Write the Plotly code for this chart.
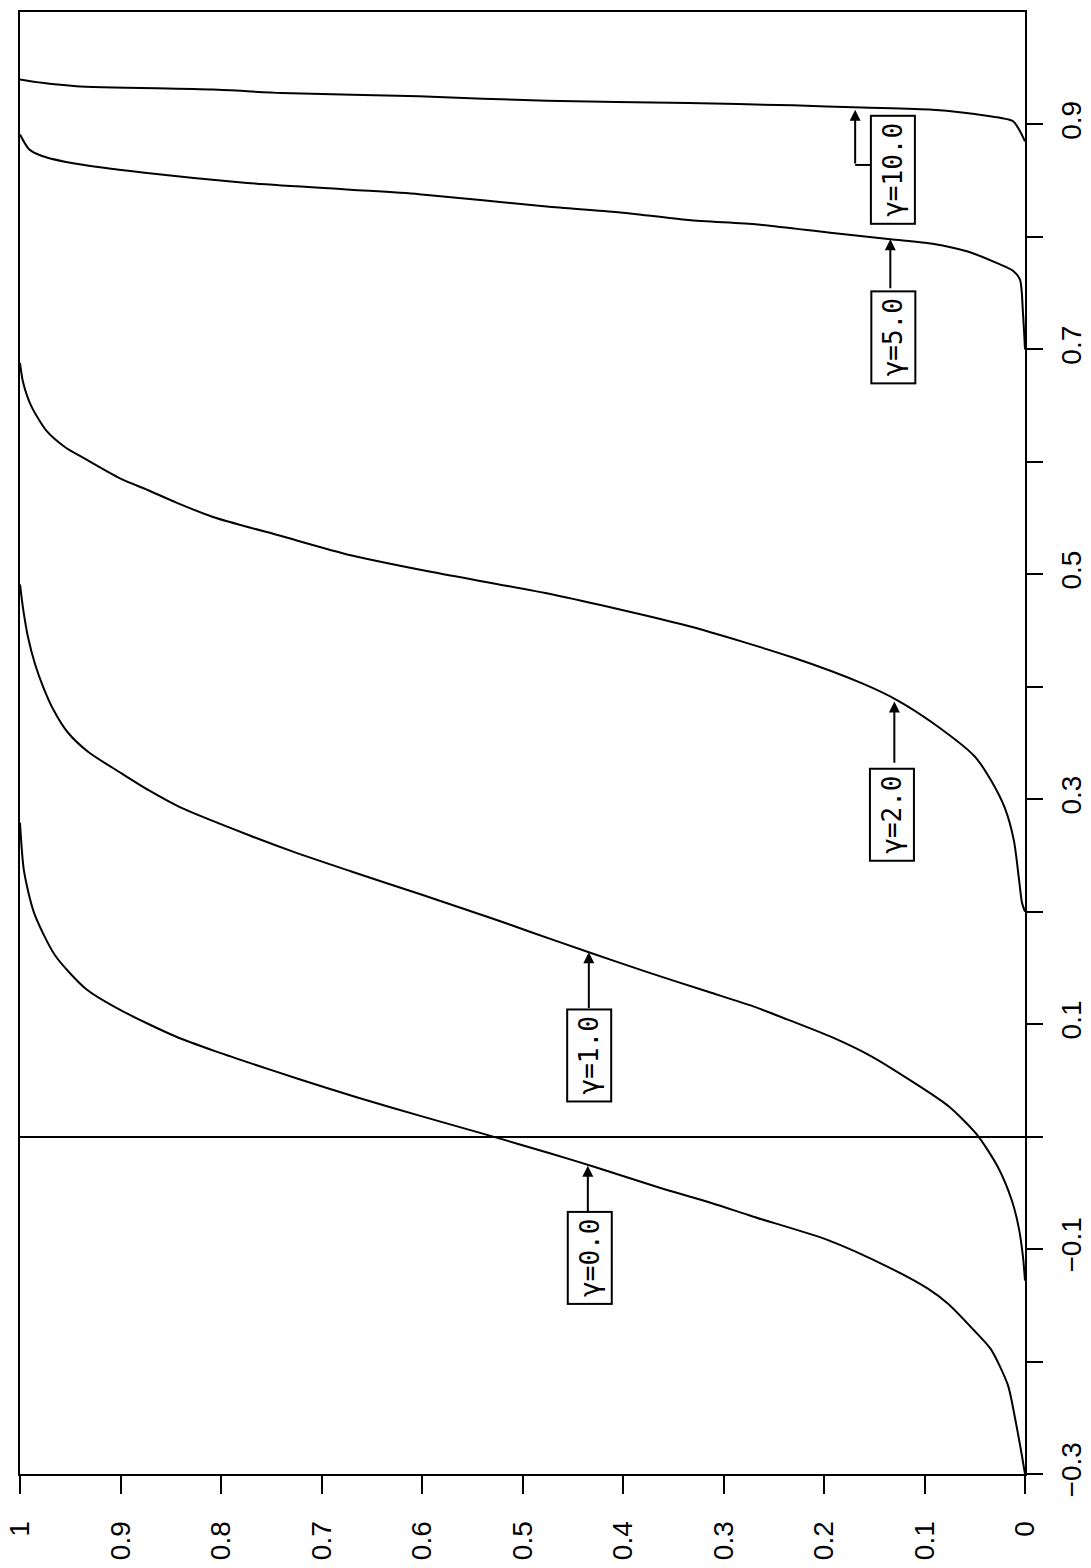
import plotly.graph_objects as go

# ---- data (rotated chart: horizontal = function value v, vertical = parameter p) ----
g0_p = [-0.300, -0.284, -0.250, -0.221, -0.189, -0.172, -0.149, -0.135, -0.116, -0.092, -0.071,
        -0.059, -0.045, -0.027, -0.015, 0.002, 0.018, 0.035, 0.051, 0.066, 0.076, 0.089,
        0.112, 0.131, 0.161, 0.199, 0.236, 0.279]
g0_v = [0.000, 0.003, 0.010, 0.017, 0.034, 0.051, 0.076, 0.097, 0.136, 0.196, 0.271,
        0.312, 0.365, 0.428, 0.472, 0.537, 0.600, 0.665, 0.722, 0.773, 0.806, 0.845,
        0.899, 0.934, 0.965, 0.986, 0.996, 1.000]

g1_p = [-0.128, -0.107, -0.082, -0.057, -0.027, 0.002, 0.027, 0.050, 0.071, 0.088, 0.104,
        0.116, 0.129, 0.146, 0.164, 0.182, 0.194, 0.215, 0.236, 0.253, 0.268, 0.293,
        0.308, 0.323, 0.342, 0.360, 0.380, 0.400, 0.420, 0.444, 0.470, 0.491]
g1_v = [0.000, 0.002, 0.006, 0.013, 0.027, 0.048, 0.076, 0.114, 0.152, 0.191, 0.236,
        0.271, 0.316, 0.375, 0.434, 0.492, 0.530, 0.600, 0.671, 0.727, 0.772, 0.841,
        0.872, 0.899, 0.932, 0.953, 0.967, 0.977, 0.985, 0.992, 0.997, 1.000]

g2_p = [0.200, 0.208, 0.229, 0.263, 0.292, 0.317, 0.338, 0.368, 0.388, 0.403,
        0.426, 0.454, 0.482, 0.502, 0.517, 0.534, 0.551, 0.564, 0.575, 0.585, 0.603,
        0.613, 0.628, 0.650, 0.671, 0.688]
g2_v = [0.000, 0.003, 0.006, 0.011, 0.020, 0.034, 0.050, 0.092, 0.127, 0.162,
        0.231, 0.335, 0.470, 0.590, 0.671, 0.740, 0.808, 0.845, 0.873, 0.900, 0.936,
        0.955, 0.974, 0.989, 0.997, 1.000]

g5_p = [0.700, 0.732, 0.762, 0.770, 0.776, 0.787, 0.794, 0.798, 0.804, 0.811, 0.815,
        0.822, 0.827, 0.838, 0.842, 0.848, 0.857, 0.865, 0.872, 0.878, 0.891]
g5_v = [0.000, 0.002, 0.005, 0.012, 0.026, 0.057, 0.092, 0.134, 0.196, 0.266, 0.335,
        0.405, 0.476, 0.603, 0.671, 0.774, 0.876, 0.944, 0.978, 0.991, 1.000]

g10_p = [0.885, 0.894, 0.903, 0.908, 0.913, 0.915, 0.917, 0.919, 0.921, 0.925, 0.928,
         0.931, 0.934, 0.937, 0.940]
g10_v = [0.000, 0.005, 0.012, 0.040, 0.092, 0.162, 0.231, 0.335, 0.476, 0.603, 0.740,
         0.808, 0.944, 0.978, 1.000]

curves = [(g0_v, g0_p), (g1_v, g1_p), (g2_v, g2_p), (g5_v, g5_p), (g10_v, g10_p)]

# labels: text, box centre (v, p), arrow start (v, p), arrow tip (v, p)
label_text = ["γ=0.0", "γ=1.0", "γ=2.0", "γ=5.0", "γ=10.0"]
label_v = [0.433, 0.434, 0.132, 0.131, 0.131]
label_p = [-0.108, 0.072, 0.2865, 0.711, 0.860]
arrow_from_v = [0.435, 0.434, 0.130, 0.134, 0.169]
arrow_from_p = [-0.068, 0.113, 0.331, 0.753, 0.864]
arrow_to_v = [0.435, 0.434, 0.130, 0.134, 0.169]
arrow_to_p = [-0.026, 0.164, 0.387, 0.798, 0.913]
# elbow piece for γ=10.0 (box edge -> corner)
elbow_v = [0.153, 0.169]
elbow_p = [0.864, 0.864]

x_tickvals = [1.0, 0.9, 0.8, 0.7, 0.6, 0.5, 0.4, 0.3, 0.2, 0.1, 0.0]
x_ticktext = ["1", "0.9", "0.8", "0.7", "0.6", "0.5", "0.4", "0.3", "0.2", "0.1", "0"]
y_tickvals = [-0.3, -0.2, -0.1, 0.0, 0.1, 0.2, 0.3, 0.4, 0.5, 0.6, 0.7, 0.8, 0.9]
y_ticktext = ["−0.3", "", "−0.1", "", "0.1", "", "0.3", "", "0.5", "", "0.7", "", "0.9"]

fig = go.Figure()
for v, p in curves:
    fig.add_trace(go.Scatter(x=v, y=p, mode="lines",
                             line=dict(color="black", width=2, shape="spline", smoothing=0.7),
                             showlegend=False, hoverinfo="skip"))

fig.add_trace(go.Scatter(x=elbow_v, y=elbow_p, mode="lines",
                         line=dict(color="black", width=2), showlegend=False,
                         hoverinfo="skip"))

for i, t in enumerate(label_text):
    fig.add_annotation(x=label_v[i], y=label_p[i], text=t, textangle=-90,
                       showarrow=False, xanchor="center", yanchor="middle",
                       font=dict(family="DejaVu Sans Mono", size=26, color="black"),
                       bordercolor="black", borderwidth=2, borderpad=6,
                       bgcolor="white")
    fig.add_annotation(x=arrow_to_v[i], y=arrow_to_p[i],
                       ax=arrow_from_v[i], ay=arrow_from_p[i],
                       axref="x", ayref="y", xref="x", yref="y",
                       text="", showarrow=True, arrowhead=2, arrowsize=1.1,
                       arrowwidth=2, arrowcolor="black")

fig.update_layout(
    width=1091, height=1568,
    margin=dict(l=20, r=66, t=12, b=94),
    paper_bgcolor="white", plot_bgcolor="white",
    font=dict(family="Liberation Sans", size=28, color="black"),
    xaxis=dict(range=[1.0, 0.0], tickvals=x_tickvals, ticktext=x_ticktext,
               tickangle=-90, ticks="outside", ticklen=18, tickwidth=2,
               tickcolor="black", showline=True, linecolor="black", linewidth=2,
               mirror=True, showgrid=False, zeroline=False, ticklabelstandoff=16,
               automargin=False,
               tickfont=dict(family="Liberation Sans", size=28)),
    yaxis=dict(range=[-0.3, 1.0], tickvals=y_tickvals, ticktext=y_ticktext,
               side="right", tickangle=-90, ticks="outside", ticklen=16, tickwidth=2,
               tickcolor="black", showline=True, linecolor="black", linewidth=2,
               mirror=True, showgrid=False, zeroline=True, zerolinecolor="black",
               zerolinewidth=2, ticklabelstandoff=4, automargin=False,
               tickfont=dict(family="Liberation Sans", size=28)),
)

fig.write_html("out.html")
